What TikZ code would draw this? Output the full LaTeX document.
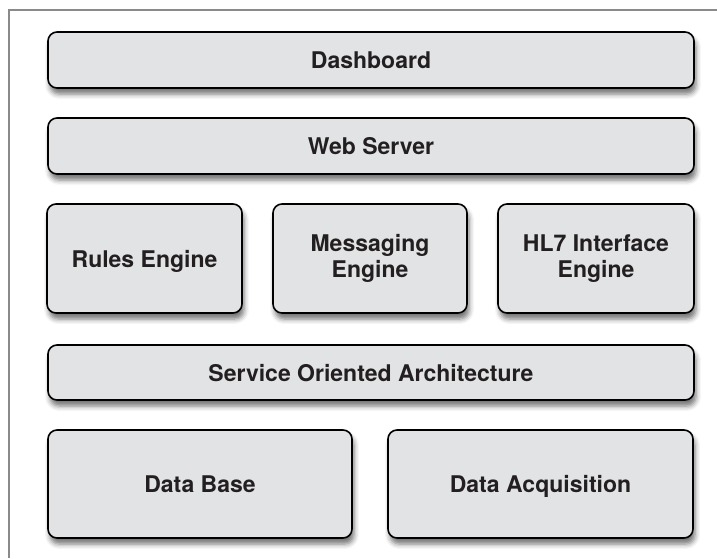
\documentclass[tikz,border=0pt]{standalone}
\usepackage{fontspec}
\setmainfont{TeX Gyre Heros}
\usepackage{tikz}
\usetikzlibrary{shadows.blur}
\definecolor{layerfill}{HTML}{E2E3E5}
\definecolor{layertext}{HTML}{231F20}
\definecolor{framegray}{HTML}{8A8A8A}
\newcommand{\layerbox}[6][]{
  \node[layer,#1,minimum width=#5,minimum height=#6] (#2) at (#3) {#4};% One block of the stack
}

\begin{document}
\begin{tikzpicture}[x=1pt,y=-1pt,
    layer/.style={draw=black,line width=1.6pt,rounded corners=9pt,fill=layerfill,
      text=layertext,font=\fontsize{23}{26}\selectfont\bfseries,align=center,
      blur shadow={shadow xshift=2pt,shadow yshift=-6pt,shadow blur radius=5pt,shadow opacity=55}},
    oneline/.style={text height=18.5pt,text depth=1pt}]
    \useasboundingbox (0,0) rectangle (717,558);
    \draw[framegray,line width=1.5pt] (9,558) -- (9,10) -- (717,10);% Outer frame

    \layerbox[oneline]{dash}{371,60}{Dashboard}{646pt}{56pt}
    \layerbox[oneline]{web}{371,146}{Web Server}{646pt}{56pt}

    \layerbox[oneline]{rules}{144.5,258.5}{Rules Engine}{195pt}{109pt}
    \layerbox{msg}{370,258.5}{Messaging\\Engine}{194pt}{109pt}
    \layerbox{hl7}{596,258.5}{HL7 Interface\\Engine}{196pt}{109pt}

    \layerbox[oneline]{soa}{371,372.5}{Service Oriented Architecture}{646pt}{55pt}

    \layerbox[oneline]{db}{200,484}{Data Base}{304pt}{108pt}
    \layerbox[oneline]{daq}{540.5,484}{Data Acquisition}{305pt}{108pt}
  \end{tikzpicture}
\end{document}
